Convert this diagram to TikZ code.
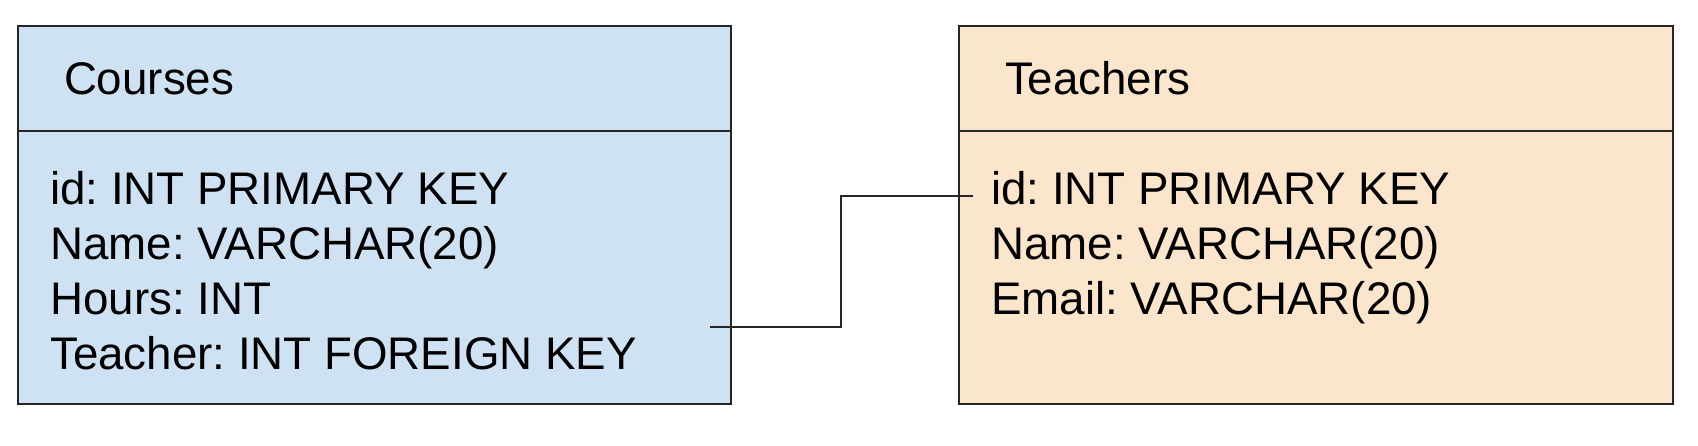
\documentclass[tikz,border=0pt]{standalone}
\usepackage{fontspec}
\setmainfont{Liberation Sans}
\usetikzlibrary{positioning}
\frenchspacing

\definecolor{courseblue}{HTML}{CFE2F3}
\definecolor{teacherorange}{HTML}{FCE5CD}

\tikzset{
  tablehead/.style={draw=black!85, line width=1.8pt, outer sep=0pt,
    inner xsep=46pt, inner ysep=0pt, minimum height=105pt, align=left,
    font=\fontsize{45.7}{54}\selectfont},
  tablebody/.style={draw=black!85, line width=1.8pt, outer sep=0pt,
    inner sep=0pt, minimum height=273pt},
  field/.style={inner sep=0pt, anchor=base west, font=\fontsize{45.7}{54}\selectfont},
  link/.style={draw=black!85, line width=1.6pt},
}

\begin{document}
\begin{tikzpicture}[x=1pt, y=-1pt]
  \useasboundingbox (0,0) rectangle (1698,446);

  % tables
  \node[tablehead, fill=courseblue, text width=621pt, anchor=north west] (courseshead) at (18,26) {Courses};
  \node[tablebody, fill=courseblue, minimum width=713pt, below=0pt of courseshead] (coursesbody) {};
  \node[tablehead, fill=teacherorange, text width=622pt, right=228pt of courseshead] (teachershead) {Teachers};
  \node[tablebody, fill=teacherorange, minimum width=714pt, below=0pt of teachershead] (teachersbody) {};

  % columns
  \foreach \fld [count=\i] in {id: INT PRIMARY KEY, Name: VARCHAR(20), Hours: INT, Teacher: INT FOREIGN KEY}
    \node[field] (cf\i) at (50, 205+54.7*\i-54.7) {\fld};
  \foreach \fld [count=\i] in {id: INT PRIMARY KEY, Name: VARCHAR(20), Email: VARCHAR(20)}
    \node[field] (tf\i) at (991, 205+54.7*\i-54.7) {\fld};

  % foreign key link
  \coordinate (fk) at (710,327);
  \coordinate (bend) at (841,327);
  \coordinate (pk) at (973,196);
  \draw[link] (fk) -- (bend) |- (pk);
\end{tikzpicture}
\end{document}
